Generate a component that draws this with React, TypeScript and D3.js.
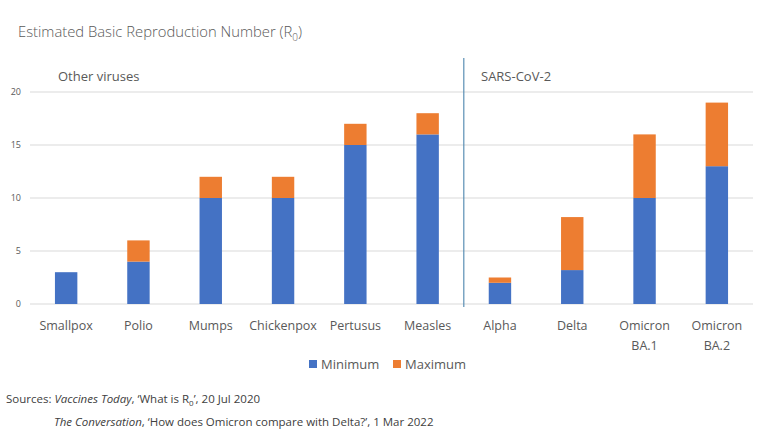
import React from "react";
import * as d3 from "d3";

const categories = ["Smallpox", "Polio", "Mumps", "Chickenpox", "Pertusus", "Measles", "Alpha", "Delta", "Omicron BA.1", "Omicron BA.2"];
const categoryLines = [["Smallpox"], ["Polio"], ["Mumps"], ["Chickenpox"], ["Pertusus"], ["Measles"], ["Alpha"], ["Delta"], ["Omicron", "BA.1"], ["Omicron", "BA.2"]];
const minimum = [3, 4, 10, 10, 15, 16, 2, 3.2, 10, 13];
const maximum = [3, 6, 12, 12, 17, 18, 2.5, 8.2, 16, 19];
const yTicks = [0, 5, 10, 15, 20];
const groupLabels = ["Other viruses", "SARS-CoV-2"];
const seriesNames = ["Minimum", "Maximum"];
const colors = ["#4472C4", "#ED7D31"];

const W = 768;
const H = 432;
const FONT = "'Open Sans', 'Noto Sans', sans-serif";
const TEXT = "#595959";

export default function App() {
  const x = d3.scaleBand<string>().domain(categories).range([30, 753]).paddingInner(0.69).paddingOuter(0.345);
  const y = d3.scaleLinear().domain([0, 20]).range([304, 92]);
  const band = (753 - 30) / categories.length;
  const dividerX = 30 + band * 6;

  return (
    <svg width={W} height={H} style={{ position: "absolute", left: 0, top: 0, background: "#fff" }} fontFamily={FONT}>
      <rect width={W} height={H} fill="#fff" />
      <text x={18} y={37} fontSize={14.8} fill={TEXT} fontWeight={300}>
        Estimated Basic Reproduction Number (R<tspan fontSize={10} dy={4}>0</tspan><tspan dy={-4}>)</tspan>
      </text>
      {yTicks.map((t) => (
        <g key={t}>
          <line x1={30} x2={753} y1={y(t)} y2={y(t)} stroke="#d9d9d9" strokeWidth={1} />
          <text x={21} y={y(t) + 3} fontSize={9} textAnchor="end" fill={TEXT}>{t}</text>
        </g>
      ))}
      {categories.map((c, i) => {
        const bx = x(c)!;
        const bw = x.bandwidth();
        return (
          <g key={c}>
            <rect x={bx} width={bw} y={y(minimum[i])} height={y(0) - y(minimum[i])} fill={colors[0]} />
            {maximum[i] > minimum[i] && (
              <rect x={bx} width={bw} y={y(maximum[i])} height={y(minimum[i]) - y(maximum[i])} fill={colors[1]} />
            )}
            <text x={bx + bw / 2} y={330} fontSize={12.5} textAnchor="middle" fill={TEXT}>
              {categoryLines[i].map((l, j) => (
                <tspan key={j} x={bx + bw / 2} dy={j === 0 ? 0 : 20}>{l}</tspan>
              ))}
            </text>
          </g>
        );
      })}
      <line x1={dividerX} x2={dividerX} y1={58} y2={307} stroke="#5a8fb5" strokeWidth={1.2} />
      <text x={58} y={81} fontSize={13} fill={TEXT}>{groupLabels[0]}</text>
      <text x={481} y={81} fontSize={13} fill={TEXT}>{groupLabels[1]}</text>
      <g>
        <rect x={309} y={360} width={8} height={8} fill={colors[0]} />
        <text x={321} y={369} fontSize={13} fill={TEXT}>{seriesNames[0]}</text>
        <rect x={393} y={360} width={8} height={8} fill={colors[1]} />
        <text x={405} y={369} fontSize={13} fill={TEXT}>{seriesNames[1]}</text>
      </g>
      <text x={6} y={403} fontSize={11.5} fill="#404040">
        Sources: <tspan fontStyle="italic">Vaccines Today</tspan>, ‘What is R<tspan fontSize={8} dy={3}>0</tspan><tspan dy={-3}>’, 20 Jul 2020</tspan>
      </text>
      <text x={54} y={426} fontSize={11.5} fill="#404040">
        <tspan fontStyle="italic">The Conversation</tspan>, ‘How does Omicron compare with Delta?’, 1 Mar 2022
      </text>
    </svg>
  );
}
